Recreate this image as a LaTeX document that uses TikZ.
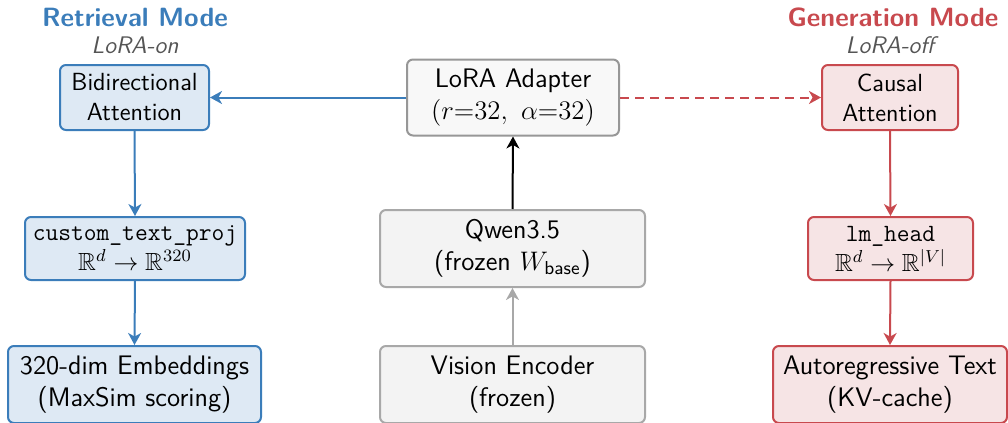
\RequirePackage{fix-cm}
\documentclass[tikz,border=0pt]{standalone}
\usepackage{amsmath,amssymb}
\usepackage{fontspec}
\usetikzlibrary{arrows.meta}
\definecolor{bl}{HTML}{3B7DBA}
\definecolor{blf}{HTML}{DEE9F4}
\definecolor{rd}{HTML}{C8494E}
\definecolor{rdf}{HTML}{F6E4E5}
\definecolor{gyb}{HTML}{A8A8A8}
\definecolor{gyf}{HTML}{F3F3F3}
\definecolor{lof}{HTML}{F8F8F8}
\definecolor{subt}{HTML}{555555}
\tikzset{
  box/.style={draw, line width=1pt, rounded corners=3pt, inner sep=0pt, align=center, font=\sffamily},
  smallf/.style={font=\sffamily\fontsize{12.4}{15}\selectfont},
  bigf/.style={font=\sffamily\fontsize{13.4}{15.8}\selectfont},
  bluebox/.style={box, draw=bl, fill=blf},
  redbox/.style={box, draw=rd, fill=rdf},
  graybox/.style={box, draw=gyb, fill=gyf},
  tip/.style={-{Stealth[length=6pt,width=6.5pt,inset=1.8pt]}},
  conn/.style={tip, line width=1pt},
  title/.style={font=\sffamily\bfseries\fontsize{13.2}{15}\selectfont},
  subtitle/.style={font=\sffamily\itshape\fontsize{12}{14}\selectfont, text=subt},
}
\begin{document}
\begin{tikzpicture}[x=0.5pt,y=-0.5pt]
\useasboundingbox (0,0) rectangle (1008,423);
% titles
\node[title, text=bl] (rt) at (135,17) {Retrieval Mode};
\node[subtitle] (rs) at (135,45) {LoRA-on};
\node[title, text=rd] (gt) at (893,17) {Generation Mode};
\node[subtitle] (gs) at (890,45) {LoRA-off};
% left column
\node[bluebox, smallf, minimum width=74.5pt, minimum height=32.5pt] (bid) at (134.5,97.5) {Bidirectional\\Attention};
\node[bluebox, smallf, minimum width=110pt, minimum height=31.5pt] (ctp) at (135,248.5) {\texttt{custom\_text\_proj}\\$\mathbb{R}^d\to\mathbb{R}^{320}$};
\node[bluebox, bigf, minimum width=126.5pt, minimum height=38.5pt] (emb) at (134.5,384.5) {320-dim Embeddings\\(MaxSim scoring)};
% middle column
\node[box, bigf, draw=gyb!90!black, fill=lof, minimum width=106pt, minimum height=38pt] (lora) at (513,97.5) {LoRA Adapter\\$(r{=}32,\ \alpha{=}32)$};
\node[graybox, bigf, minimum width=132.5pt, minimum height=38.5pt] (qwen) at (512.5,248.5) {Qwen3.5\\(frozen $W_{\textsf{base}}$)};
\node[graybox, bigf, minimum width=132.5pt, minimum height=38.5pt] (vis) at (512.5,384.5) {Vision Encoder\\(frozen)};
% right column
\node[redbox, smallf, minimum width=68pt, minimum height=32.5pt] (cau) at (890,97.5) {Causal\\Attention};
\node[redbox, smallf, minimum width=82.5pt, minimum height=31.5pt] (lmh) at (890.5,248.5) {\texttt{lm\_head}\\$\mathbb{R}^d\to\mathbb{R}^{|V|}$};
\node[redbox, bigf, minimum width=117pt, minimum height=38.5pt] (ar) at (890,384.5) {Autoregressive Text\\(KV-cache)};
% connectors
\draw[conn, draw=bl] (lora.west) -- (bid.east);
\draw[conn, draw=rd, dash pattern=on 4.5pt off 3pt] (lora.east) -- (cau.west);
\draw[conn, draw=black] (qwen.north) -- (lora.south);
\draw[conn, draw=gyb] (vis.north) -- (qwen.south);
\draw[conn, draw=bl] (bid.south) -- (ctp.north);
\draw[conn, draw=bl] (ctp.south) -- (emb.north);
\draw[conn, draw=rd] (cau.south) -- (lmh.north);
\draw[conn, draw=rd] (lmh.south) -- (ar.north);
\end{tikzpicture}
\end{document}
